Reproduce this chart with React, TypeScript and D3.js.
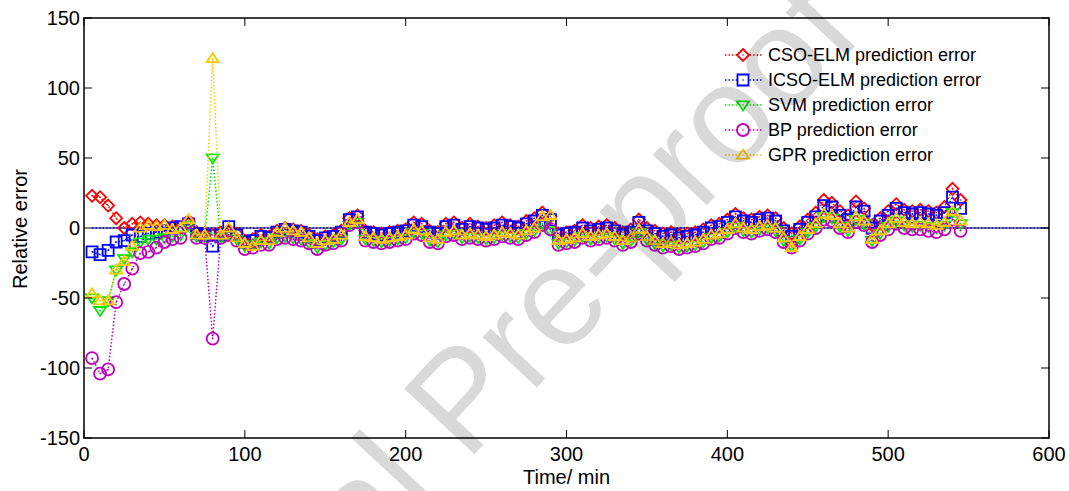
import * as d3 from "d3";

// sampling times (min)
const timeMin = d3.range(5, 550, 5);

const csoElm = [
  23, 22, 16, 7, 0, 3, 4, 3, 2, 2, 1, 0, 3, -3, -4, -5, -3, -2, -4, -9,
  -8, -5, -6, -2, 0, -1, -2, -5, -8, -6, -5, -2, 7, 9, -2, -3, -4, -3, -2, -1,
  4, 3, -2, -3, 3, 4, 0, 3, 1, 0, 2, 4, 2, 1, 5, 7, 11, 8, -4, -3,
  -2, 2, 0, 1, 2, 0, -3, -1, 6, 0, -2, -4, -3, -5, -4, -3, -1, 2, 3, 6,
  10, 7, 6, 8, 9, 7, 0, -4, 1, 6, 11, 20, 18, 12, 9, 19, 14, 2, 7, 12,
  17, 13, 12, 13, 12, 11, 15, 28, 20,
];
const icsoElm = [
  -17, -19, -16, -10, -9, -5, -6, -4, -3, -2, 0, 1, 3, -4, -5, -13, -5, 1, -5, -10,
  -9, -6, -7, -3, -1, -2, -3, -6, -9, -7, -6, -3, 6, 8, -3, -4, -5, -4, -3, -2,
  2, 1, -3, -4, 1, 2, -1, 1, 0, -1, 0, 2, 1, 0, 3, 5, 9, 6, -5, -4,
  -3, 0, -2, -1, 0, -2, -5, -3, 4, -2, -4, -6, -5, -7, -6, -5, -3, 0, 1, 4,
  8, 5, 4, 6, 7, 5, -2, -6, -1, 4, 8, 16, 15, 9, 6, 15, 12, 0, 5, 9,
  14, 11, 10, 11, 10, 9, 11, 22, 14,
];
const svm = [
  -50, -59, -52, -30, -22, -17, -10, -8, -8, -7, -6, -5, 2, -6, -6, 50, -7, -5, -8, -13,
  -12, -10, -11, -7, -6, -7, -8, -11, -14, -12, -10, -8, 2, 4, -8, -9, -10, -9, -8, -7,
  -3, -4, -9, -10, -5, -4, -7, -6, -7, -8, -7, -5, -6, -7, -4, -2, 3, -2, -11, -10,
  -9, -6, -8, -7, -6, -8, -11, -9, -3, -8, -11, -13, -12, -14, -13, -12, -10, -7, -6, -3,
  1, -2, -3, -1, 0, -2, -9, -13, -8, -3, 1, 8, 7, 1, -2, 6, 3, -9, -4, 1,
  5, 2, 1, 2, 1, 0, 2, 11, 3,
];
const bp = [
  -93, -104, -101, -53, -40, -29, -18, -17, -14, -10, -8, -7, 4, -7, -7, -79, -7, -5, -9, -15,
  -14, -12, -12, -8, -7, -8, -9, -11, -15, -12, -11, -9, 2, 4, -9, -10, -11, -10, -9, -8,
  -4, -5, -10, -11, -6, -5, -8, -7, -8, -9, -8, -6, -7, -8, -5, -3, 2, -1, -12, -11,
  -10, -7, -9, -8, -7, -9, -12, -10, -4, -9, -12, -14, -13, -15, -14, -13, -11, -8, -7, -4,
  0, -3, -4, -2, -1, -3, -10, -14, -9, -4, 0, 6, 5, 0, -3, 4, 2, -10, -5, -1,
  3, 0, -1, -1, -2, -3, -1, 6, -2,
];
const gpr = [
  -47, -52, -52, -30, -24, -13, 0, 2, 1, 2, -1, 0, 6, -5, -5, 121, -5, 0, -7, -11,
  -13, -9, -9, -3, 0, -2, -3, -7, -11, -9, -8, -5, 4, 6, -6, -7, -8, -7, -6, -5,
  -1, -2, -7, -8, -3, -2, -5, -4, -5, -6, -5, -3, -4, -5, -2, 0, 8, 9, -9, -8,
  -7, -4, -6, -5, -4, -6, -9, -7, -1, -6, -9, -11, -10, -12, -11, -10, -8, -5, -4, -1,
  3, 0, -1, 1, 2, 0, -7, -14, -6, -1, 3, 10, 9, 3, 0, 8, 5, -8, -2, 3,
  7, 4, 3, 4, 3, 2, 4, 12, 5,
];

const xTicks = [0, 100, 200, 300, 400, 500, 600];
const yTicks = [-150, -100, -50, 0, 50, 100, 150];

const series = [
  { name: "CSO-ELM prediction error", values: csoElm, color: "#ff0000", marker: "diamond" },
  { name: "ICSO-ELM prediction error", values: icsoElm, color: "#0000ff", marker: "square" },
  { name: "SVM prediction error", values: svm, color: "#00e600", marker: "down" },
  { name: "BP prediction error", values: bp, color: "#bf00bf", marker: "circle" },
  { name: "GPR prediction error", values: gpr, color: "#ffc800", marker: "up" },
];

const W = 1069;
const H = 491;
const left = 84;
const right = 1049;
const top = 18;
const bottom = 438;
const font = "'Liberation Sans', Arial, sans-serif";

const markerPath = (kind: string, r = 6) => {
  switch (kind) {
    case "diamond":
      return `M0,${-r}L${r},0L0,${r}L${-r},0Z`;
    case "square":
      return `M${-r + 0.5},${-r + 0.5}H${r - 0.5}V${r - 0.5}H${-r + 0.5}Z`;
    case "down":
      return `M${-r},${-r * 0.6}H${r}L0,${r * 0.9}Z`;
    case "up":
      return `M${-r},${r * 0.6}H${r}L0,${-r * 0.9}Z`;
    default:
      return d3.arc()({ innerRadius: 0, outerRadius: r, startAngle: 0, endAngle: 2 * Math.PI }) as string;
  }
};

export default function App() {
  const x = d3.scaleLinear().domain([0, 600]).range([left, right]);
  const y = d3.scaleLinear().domain([-150, 150]).range([bottom, top]);
  const line = d3
    .line<number>()
    .x((_, i) => x(timeMin[i]))
    .y(d => y(d));

  return (
    <svg
      width={W}
      height={H}
      style={{ position: "absolute", left: 0, top: 0, background: "#fff" }}
      fontFamily={font}
    >
      <rect width={W} height={H} fill="#fff" />

      {/* zero reference */}
      <line x1={x(5)} x2={x(600)} y1={y(0)} y2={y(0)} stroke="#000" strokeWidth={1.2} />
      <line x1={x(5)} x2={x(600)} y1={y(0)} y2={y(0)} stroke="#0000ff" strokeWidth={1.5} strokeDasharray="1.5,2" />

      {series.map(s => (
        <g key={s.name}>
          <path d={line(s.values) as string} fill="none" stroke={s.color} strokeWidth={1.5} strokeDasharray="1.5,2" />
          {s.values.map((v, i) => (
            <g key={i} transform={`translate(${x(timeMin[i])},${y(v)})`}>
              <path d={markerPath(s.marker)} fill="none" stroke={s.color} strokeWidth={1.8} />
              <circle r={0.8} fill={s.color} />
            </g>
          ))}
        </g>
      ))}

      {/* axes box */}
      <rect x={left} y={top} width={right - left} height={bottom - top} fill="none" stroke="#000" strokeWidth={1.5} />
      {xTicks.map(t => (
        <g key={`x${t}`}>
          <line x1={x(t)} x2={x(t)} y1={bottom} y2={bottom - 8} stroke="#000" />
          <line x1={x(t)} x2={x(t)} y1={top} y2={top + 8} stroke="#000" />
          <text x={x(t)} y={461} textAnchor="middle" fontSize={20}>
            {t}
          </text>
        </g>
      ))}
      {yTicks.map(t => (
        <g key={`y${t}`}>
          <line x1={left} x2={left + 8} y1={y(t)} y2={y(t)} stroke="#000" />
          <line x1={right} x2={right - 8} y1={y(t)} y2={y(t)} stroke="#000" />
          <text x={80} y={y(t)} dy="0.35em" textAnchor="end" fontSize={20}>
            {t}
          </text>
        </g>
      ))}
      <text x={(left + right) / 2} y={484} textAnchor="middle" fontSize={20}>
        Time/ min
      </text>
      <text transform={`translate(27,229) rotate(-90)`} textAnchor="middle" fontSize={20}>
        Relative error
      </text>

      {/* legend */}
      {series.map((s, i) => {
        const ly = 55 + i * 25;
        return (
          <g key={`lg${i}`}>
            <line x1={725} x2={762} y1={ly} y2={ly} stroke={s.color} strokeWidth={1.5} strokeDasharray="1.5,2" />
            <g transform={`translate(743,${ly})`}>
              <path d={markerPath(s.marker)} fill="#fff" stroke={s.color} strokeWidth={1.8} />
              <circle r={0.8} fill={s.color} />
            </g>
            <text x={768} y={ly} dy="0.35em" fontSize={18}>
              {s.name}
            </text>
          </g>
        );
      })}

      {/* watermark */}
      <text transform="translate(127,827) rotate(-47)" fontSize={140} fill="#000" fillOpacity={0.15}>
        Journal Pre-proof
      </text>
    </svg>
  );
}
